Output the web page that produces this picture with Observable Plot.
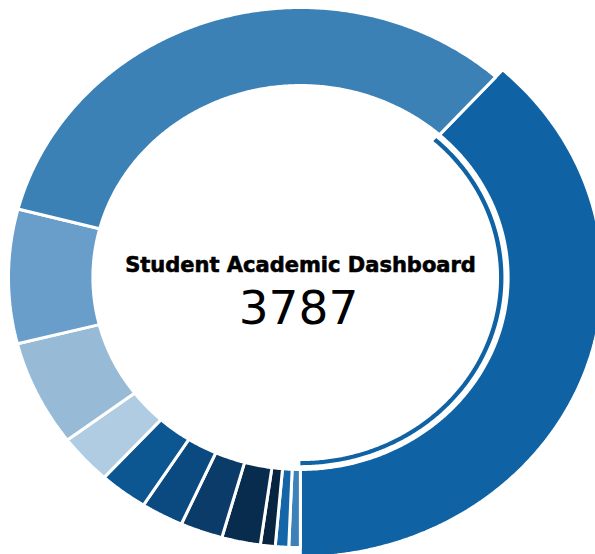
<!DOCTYPE html>
<html><head><meta charset="utf-8">
<script src="https://cdn.jsdelivr.net/npm/d3@7"></script>
<script src="https://cdn.jsdelivr.net/npm/@observablehq/plot@0.6"></script>
<style>html,body{margin:0;padding:0;background:#fff;overflow:hidden}</style>
</head><body><div id="chart"></div>
<script>
// ---- data ----
const categories = ["Segment 1","Segment 2","Segment 3","Segment 4","Segment 5","Segment 6",
                    "Segment 7","Segment 8","Segment 9","Segment 10","Segment 11","Segment 12"];
const values = [1452, 24, 28, 31, 81, 89, 89, 102, 113, 240, 304, 1234];
const selectedCategory = "Segment 1";
const title = "Student Academic Dashboard";

// ---- style ----
const palette = ["#0f62a4","#3c82b9","#1566a8","#072540","#082c4d","#0b3b68",
                 "#0b4a80","#0c5692","#b0cce2","#97bad7","#699dca","#3c81b5"];
const startDeg = 42;
const innerR = 0.711, outerR = 1, selectedOuterR = 1.035, ringInner = 0.680, ringOuter = 0.695;

const total = d3.sum(values);
const rad = d => d * Math.PI / 180;
function arcPoly(cat, a0, a1, r0, r1, closed) {
  const n = Math.max(2, Math.ceil((a1 - a0) / 0.5));
  const pts = [];
  for (let i = 0; i <= n; i++) { const a = rad(a0 + (a1 - a0) * i / n); pts.push({cat, x: r1 * Math.sin(a), y: r1 * Math.cos(a)}); }
  for (let i = n; i >= 0; i--) { const a = rad(a0 + (a1 - a0) * i / n); pts.push({cat, x: r0 * Math.sin(a), y: r0 * Math.cos(a)}); }
  if (closed) pts.push({...pts[0]});
  return pts;
}
let cum = 0;
const slices = [], ring = [];
categories.forEach((cat, i) => {
  const a0 = startDeg + cum / total * 360;
  cum += values[i];
  const a1 = startDeg + cum / total * 360;
  const sel = cat === selectedCategory;
  slices.push(...arcPoly(cat, a0, a1, innerR, sel ? selectedOuterR : outerR, true));
  if (sel) ring.push(...arcPoly(cat, a0, a1, ringInner, ringOuter, true));
});

const chart = Plot.plot({
  width: 595, height: 554, margin: 0,
  style: {background: "white", fontFamily: "DejaVu Sans"},
  x: {domain: [-1, 1], range: [8, 592], axis: null},
  y: {domain: [-1, 1], range: [547, 7], axis: null},
  color: {domain: categories, range: palette},
  marks: [
    Plot.line(slices, {x: "x", y: "y", z: "cat", fill: "cat", stroke: "white", strokeWidth: 3, strokeLinejoin: "miter"}),
    Plot.line(ring, {x: "x", y: "y", z: "cat", fill: "cat", stroke: "none"}),
    Plot.text([title], {x: 0, y: 0, text: d => d, fontSize: 21, fontWeight: "bold", fill: "black", stroke: "black", strokeWidth: 0.6, lineAnchor: "bottom", dy: -6, textAnchor: "middle"}),
    Plot.text([total], {x: 0, y: 0, text: d => String(d), fontSize: 47, fill: "black", lineAnchor: "bottom", dy: 46, dx: -2, textAnchor: "middle"})
  ]
});
document.getElementById("chart").appendChild(chart);
</script>
</body></html>
